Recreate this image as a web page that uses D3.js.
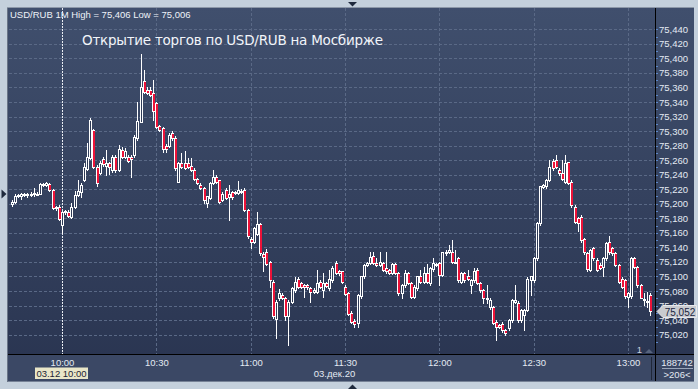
<!DOCTYPE html>
<html>
<head>
<meta charset="utf-8">
<script src="https://cdn.jsdelivr.net/npm/d3@7"></script>
<style>
  body { margin: 0; background: #c4d0dc; }
  svg { display: block; }
  text { font-family: 'Liberation Sans', Arial, sans-serif; }
</style>
</head>
<body>
<script>
// USD/RUB, 1-minute candles, 03.12.2020
var startTime = '09:44';
var opens = [
  75.200, 75.202, 75.211, 75.211, 75.212, 75.213, 75.212, 75.213, 75.213, 75.214,
  75.227, 75.226, 75.227, 75.219, 75.196, 75.196, 75.171, 75.188, 75.189, 75.182,
  75.196, 75.212, 75.216, 75.233, 75.248, 75.263, 75.301, 75.250, 75.243, 75.261,
  75.252, 75.256, 75.246, 75.265, 75.246, 75.274, 75.265, 75.265, 75.264, 75.267,
  75.290, 75.313, 75.369, 75.357, 75.357, 75.352, 75.338, 75.307, 75.304, 75.280,
  75.280, 75.298, 75.291, 75.230, 75.256, 75.256, 75.256, 75.252, 75.247, 75.234,
  75.226, 75.221, 75.201, 75.208, 75.228, 75.237, 75.232, 75.205, 75.219, 75.209,
  75.216, 75.215, 75.215, 75.218, 75.219, 75.191, 75.151, 75.148, 75.159, 75.172,
  75.131, 75.134, 75.120, 75.093, 75.041, 75.070, 75.075, 75.070, 75.045, 75.065,
  75.081, 75.097, 75.091, 75.088, 75.088, 75.084, 75.079, 75.079, 75.093, 75.081,
  75.091, 75.084, 75.095, 75.118, 75.107, 75.107, 75.086, 75.077, 75.050, 75.039,
  75.036, 75.073, 75.100, 75.116, 75.118, 75.128, 75.118, 75.116, 75.118, 75.111,
  75.109, 75.105, 75.117, 75.105, 75.077, 75.088, 75.105, 75.091, 75.072, 75.084,
  75.100, 75.093, 75.105, 75.091, 75.110, 75.117, 75.118, 75.102, 75.132, 75.134,
  75.134, 75.120, 75.125, 75.093, 75.105, 75.100, 75.088, 75.095, 75.109, 75.091,
  75.081, 75.070, 75.058, 75.058, 75.038, 75.033, 75.035, 75.026, 75.029, 75.040,
  75.065, 75.064, 75.040, 75.047, 75.054, 75.095, 75.095, 75.125, 75.173, 75.223,
  75.224, 75.233, 75.259, 75.260, 75.247, 75.243, 75.230, 75.257, 75.230, 75.196,
  75.180, 75.182, 75.151, 75.132, 75.109, 75.139, 75.123, 75.116, 75.113, 75.125,
  75.148, 75.139, 75.132, 75.116, 75.097, 75.095, 75.072, 75.073, 75.125, 75.113,
  75.088, 75.069, 75.066, 75.075
];
var highs = [
  75.205, 75.213, 75.214, 75.215, 75.215, 75.215, 75.216, 75.222, 75.216, 75.228,
  75.229, 75.230, 75.229, 75.220, 75.197, 75.198, 75.190, 75.192, 75.191, 75.201,
  75.217, 75.233, 75.229, 75.256, 75.283, 75.318, 75.303, 75.253, 75.259, 75.265,
  75.274, 75.258, 75.267, 75.267, 75.281, 75.278, 75.277, 75.267, 75.267, 75.295,
  75.340, 75.406, 75.384, 75.361, 75.361, 75.370, 75.340, 75.308, 75.306, 75.282,
  75.297, 75.300, 75.293, 75.258, 75.270, 75.272, 75.263, 75.263, 75.249, 75.236,
  75.228, 75.223, 75.211, 75.230, 75.246, 75.239, 75.233, 75.216, 75.221, 75.226,
  75.218, 75.218, 75.231, 75.220, 75.221, 75.193, 75.154, 75.168, 75.189, 75.174,
  75.133, 75.138, 75.121, 75.095, 75.068, 75.083, 75.077, 75.072, 75.068, 75.086,
  75.099, 75.099, 75.092, 75.090, 75.090, 75.086, 75.084, 75.109, 75.095, 75.105,
  75.092, 75.109, 75.114, 75.121, 75.109, 75.108, 75.088, 75.079, 75.052, 75.041,
  75.076, 75.101, 75.117, 75.120, 75.134, 75.134, 75.125, 75.134, 75.120, 75.134,
  75.110, 75.119, 75.119, 75.106, 75.090, 75.109, 75.106, 75.093, 75.088, 75.101,
  75.109, 75.113, 75.117, 75.113, 75.125, 75.119, 75.120, 75.134, 75.136, 75.143,
  75.150, 75.136, 75.127, 75.106, 75.106, 75.109, 75.097, 75.112, 75.111, 75.092,
  75.083, 75.088, 75.070, 75.060, 75.040, 75.035, 75.037, 75.028, 75.042, 75.069,
  75.088, 75.066, 75.055, 75.055, 75.099, 75.101, 75.127, 75.175, 75.225, 75.227,
  75.234, 75.260, 75.261, 75.267, 75.249, 75.260, 75.267, 75.258, 75.232, 75.198,
  75.182, 75.184, 75.153, 75.134, 75.138, 75.141, 75.125, 75.118, 75.127, 75.147,
  75.155, 75.141, 75.134, 75.117, 75.099, 75.097, 75.079, 75.127, 75.127, 75.115,
  75.090, 75.077, 75.079, 75.077
];
var lows = [
  75.197, 75.201, 75.209, 75.206, 75.211, 75.209, 75.211, 75.211, 75.212, 75.213,
  75.225, 75.225, 75.218, 75.193, 75.192, 75.178, 75.160, 75.186, 75.182, 75.181,
  75.194, 75.211, 75.209, 75.231, 75.246, 75.262, 75.249, 75.225, 75.241, 75.252,
  75.240, 75.241, 75.244, 75.244, 75.245, 75.263, 75.263, 75.258, 75.237, 75.264,
  75.288, 75.313, 75.352, 75.351, 75.348, 75.315, 75.304, 75.300, 75.271, 75.271,
  75.278, 75.288, 75.246, 75.230, 75.249, 75.248, 75.249, 75.245, 75.232, 75.227,
  75.220, 75.201, 75.196, 75.206, 75.227, 75.229, 75.201, 75.204, 75.206, 75.178,
  75.207, 75.213, 75.213, 75.215, 75.190, 75.153, 75.139, 75.146, 75.157, 75.130,
  75.107, 75.116, 75.086, 75.043, 75.016, 75.068, 75.069, 75.040, 75.006, 75.064,
  75.079, 75.084, 75.084, 75.072, 75.083, 75.065, 75.077, 75.077, 75.084, 75.072,
  75.086, 75.081, 75.093, 75.103, 75.102, 75.091, 75.074, 75.047, 75.036, 75.031,
  75.031, 75.070, 75.098, 75.114, 75.117, 75.117, 75.114, 75.115, 75.107, 75.105,
  75.103, 75.103, 75.103, 75.075, 75.070, 75.086, 75.089, 75.070, 75.070, 75.082,
  75.091, 75.091, 75.091, 75.088, 75.108, 75.114, 75.088, 75.100, 75.130, 75.132,
  75.119, 75.118, 75.093, 75.091, 75.093, 75.095, 75.077, 75.093, 75.089, 75.079,
  75.064, 75.064, 75.055, 75.035, 75.013, 75.029, 75.024, 75.020, 75.027, 75.038,
  75.064, 75.038, 75.038, 75.026, 75.052, 75.075, 75.093, 75.123, 75.171, 75.221,
  75.222, 75.231, 75.247, 75.249, 75.240, 75.232, 75.229, 75.227, 75.196, 75.174,
  75.163, 75.148, 75.131, 75.108, 75.108, 75.123, 75.107, 75.110, 75.101, 75.123,
  75.131, 75.130, 75.114, 75.091, 75.084, 75.071, 75.058, 75.071, 75.112, 75.086,
  75.070, 75.061, 75.058, 75.047
];
var closes = [
  75.203, 75.211, 75.212, 75.213, 75.213, 75.212, 75.213, 75.215, 75.214, 75.227,
  75.226, 75.228, 75.219, 75.194, 75.194, 75.179, 75.189, 75.190, 75.183, 75.196,
  75.212, 75.217, 75.226, 75.250, 75.264, 75.315, 75.250, 75.229, 75.256, 75.255,
  75.256, 75.251, 75.265, 75.246, 75.276, 75.265, 75.272, 75.259, 75.262, 75.292,
  75.314, 75.361, 75.354, 75.353, 75.350, 75.327, 75.306, 75.301, 75.276, 75.276,
  75.295, 75.290, 75.249, 75.256, 75.251, 75.249, 75.251, 75.246, 75.234, 75.228,
  75.221, 75.205, 75.210, 75.228, 75.237, 75.230, 75.203, 75.214, 75.208, 75.214,
  75.209, 75.216, 75.219, 75.217, 75.191, 75.155, 75.148, 75.166, 75.172, 75.132,
  75.127, 75.117, 75.095, 75.045, 75.065, 75.077, 75.071, 75.045, 75.065, 75.084,
  75.093, 75.086, 75.086, 75.086, 75.086, 75.079, 75.082, 75.091, 75.086, 75.091,
  75.087, 75.097, 75.112, 75.105, 75.105, 75.093, 75.076, 75.049, 75.038, 75.035,
  75.075, 75.100, 75.116, 75.119, 75.127, 75.118, 75.116, 75.120, 75.109, 75.107,
  75.105, 75.117, 75.105, 75.077, 75.088, 75.105, 75.091, 75.072, 75.086, 75.100,
  75.093, 75.105, 75.093, 75.111, 75.119, 75.116, 75.102, 75.133, 75.134, 75.136,
  75.120, 75.119, 75.095, 75.105, 75.095, 75.096, 75.095, 75.108, 75.091, 75.081,
  75.071, 75.069, 75.068, 75.036, 75.030, 75.031, 75.026, 75.022, 75.040, 75.068,
  75.068, 75.040, 75.054, 75.054, 75.097, 75.100, 75.125, 75.173, 75.224, 75.226,
  75.233, 75.251, 75.249, 75.251, 75.242, 75.234, 75.256, 75.228, 75.198, 75.175,
  75.173, 75.150, 75.133, 75.110, 75.136, 75.125, 75.109, 75.111, 75.125, 75.146,
  75.133, 75.132, 75.116, 75.093, 75.086, 75.073, 75.077, 75.125, 75.113, 75.088,
  75.071, 75.067, 75.065, 75.052
];
var priceTicks = [75.02, 75.04, 75.06, 75.08, 75.10, 75.12, 75.14, 75.16, 75.18, 75.20, 75.22,
  75.24, 75.26, 75.28, 75.30, 75.32, 75.34, 75.36, 75.38, 75.40, 75.42, 75.44];
var timeTicks = ['10:00', '10:30', '11:00', '11:30', '12:00', '12:30', '13:00'];
var sessionStart = '10:00';
var lastPrice = 75.052;

var w = 698, h = 389;
var plotLeft = 9, plotRight = 655, plotTop = 8, plotBottom = 354;

var parse = d3.timeParse('%H:%M');
var t0 = parse(startTime);
var data = opens.map(function (o, i) {
  return { t: d3.timeMinute.offset(t0, i), o: o, h: highs[i], l: lows[i], c: closes[i] };
});

var x = d3.scaleTime()
  .domain([parse(timeTicks[0]), parse(timeTicks[timeTicks.length - 1])])
  .range([62, 628]);
var y = d3.scaleLinear()
  .domain([75.02, 75.44])
  .range([334.6, 29.3]);

var comma = function (d) { return d3.format('.3f')(d).replace('.', ','); };

var svg = d3.select('body').append('svg')
  .attr('width', w)
  .attr('height', h);

var defs = svg.append('defs');
var grad = defs.append('linearGradient')
  .attr('id', 'bg').attr('x1', 0).attr('y1', 0).attr('x2', 0).attr('y2', 1);
grad.append('stop').attr('offset', '0%').attr('stop-color', '#404f6d');
grad.append('stop').attr('offset', '100%').attr('stop-color', '#293450');
defs.append('clipPath').attr('id', 'plotclip')
  .append('rect')
  .attr('x', plotLeft).attr('y', plotTop)
  .attr('width', plotRight - plotLeft).attr('height', plotBottom - plotTop);

// frame
svg.append('rect').attr('width', w).attr('height', h).attr('fill', '#c4d0dc');
svg.append('rect')
  .attr('x', 8).attr('y', 7.5).attr('width', 686).attr('height', 374)
  .attr('fill', 'url(#bg)');
svg.append('rect')
  .attr('x', 8).attr('y', plotBottom).attr('width', 686).attr('height', 381 - plotBottom)
  .attr('fill', '#3b4865');
svg.append('line')
  .attr('x1', 7.5).attr('x2', 7.5).attr('y1', 7).attr('y2', 382)
  .attr('stroke', '#6a7587');
svg.append('line')
  .attr('x1', 7).attr('x2', 694).attr('y1', 7.5).attr('y2', 7.5)
  .attr('stroke', '#8d98a8');

// small triangles on the frame
svg.append('path').attr('d', 'M348,2 L357,2 L352.5,6.5 Z').attr('fill', '#1f2a3d');
svg.append('path').attr('d', 'M348,389 L357,389 L352.5,384.5 Z').attr('fill', '#1f2a3d');
svg.append('path').attr('d', 'M1.5,189.5 L6.5,194 L1.5,198.5 Z').attr('fill', '#1f2a3d');

// grid
var grid = svg.append('g');
grid.selectAll('line.h')
  .data(priceTicks)
  .enter()
  .append('line')
  .attr('class', 'h')
  .attr('x1', plotLeft).attr('x2', plotRight)
  .attr('y1', function (d) { return Math.round(y(d)) + 0.5; })
  .attr('y2', function (d) { return Math.round(y(d)) + 0.5; })
  .attr('stroke', '#5a6986')
  .attr('stroke-dasharray', '3,2');
grid.selectAll('line.v')
  .data(timeTicks.filter(function (d) { return d !== sessionStart; }))
  .enter()
  .append('line')
  .attr('class', 'v')
  .attr('x1', function (d) { return Math.round(x(parse(d))) + 0.5; })
  .attr('x2', function (d) { return Math.round(x(parse(d))) + 0.5; })
  .attr('y1', plotTop).attr('y2', plotBottom)
  .attr('stroke', '#5a6986')
  .attr('stroke-dasharray', '3,2');
svg.append('line')
  .attr('x1', Math.round(x(parse(sessionStart))) + 0.5)
  .attr('x2', Math.round(x(parse(sessionStart))) + 0.5)
  .attr('y1', plotTop).attr('y2', plotBottom)
  .attr('stroke', '#e8ecf2')
  .attr('stroke-dasharray', '2,1');

// candles: white hollow for up, white-edged red for down
var bodyTop = function (d) { return Math.round(y(Math.max(d.o, d.c))); };
var bodyH = function (d) { return Math.max(1, Math.round(y(Math.min(d.o, d.c))) - bodyTop(d)); };
var candles = svg.append('g').attr('clip-path', 'url(#plotclip)')
  .selectAll('g')
  .data(data)
  .enter()
  .append('g');
candles.append('line')
  .attr('x1', function (d) { return Math.round(x(d.t)) + 0.5; })
  .attr('x2', function (d) { return Math.round(x(d.t)) + 0.5; })
  .attr('y1', function (d) { return Math.round(y(d.h)); })
  .attr('y2', function (d) { return Math.round(y(d.l)) + 1; })
  .attr('stroke', '#ffffff');
candles.filter(function (d) { return d.c >= d.o; })
  .append('rect')
  .attr('x', function (d) { return Math.round(x(d.t)) - 0.5; })
  .attr('y', function (d) { return bodyTop(d) + 0.5; })
  .attr('width', 2)
  .attr('height', bodyH)
  .attr('fill', '#2f3b57')
  .attr('stroke', '#ffffff');
var down = candles.filter(function (d) { return d.c < d.o; });
down.append('rect')
  .attr('x', function (d) { return Math.round(x(d.t)) - 1; })
  .attr('y', bodyTop)
  .attr('width', 3)
  .attr('height', function (d) { return bodyH(d) + 1; })
  .attr('fill', '#ffffff');
down.filter(function (d) { return bodyH(d) > 1; })
  .append('rect')
  .attr('x', function (d) { return Math.round(x(d.t)); })
  .attr('y', function (d) { return bodyTop(d) + 1; })
  .attr('width', 2)
  .attr('height', function (d) { return bodyH(d) - 1; })
  .attr('fill', '#ec1238');

// axis lines
svg.append('line')
  .attr('x1', plotRight + 0.5).attr('x2', plotRight + 0.5).attr('y1', plotTop).attr('y2', 381)
  .attr('stroke', '#000000');
svg.append('line')
  .attr('x1', 8).attr('x2', 694).attr('y1', plotBottom + 0.5).attr('y2', plotBottom + 0.5)
  .attr('stroke', '#000000');

// right price axis
var minorTicks = d3.range(75.01, 75.445, 0.01);
svg.append('g').selectAll('line')
  .data(minorTicks)
  .enter()
  .append('line')
  .attr('x1', plotRight + 1).attr('x2', plotRight + 3)
  .attr('y1', function (d) { return Math.round(y(d)) + 0.5; })
  .attr('y2', function (d) { return Math.round(y(d)) + 0.5; })
  .attr('stroke', '#5c87c8');

var yAxis = svg.append('g')
  .attr('transform', 'translate(' + (plotRight + 1) + ',0)')
  .call(d3.axisRight(y).tickValues(priceTicks).tickFormat(comma).tickSize(0).tickPadding(3));
yAxis.select('.domain').remove();
yAxis.selectAll('text')
  .attr('fill', '#e4eaf3')
  .style('font-size', '9.5px')
  .style('font-family', "'Liberation Sans', Arial, sans-serif");

// bottom time axis
var xAxis = svg.append('g')
  .attr('transform', 'translate(0,' + (plotBottom + 3) + ')')
  .call(d3.axisBottom(x)
    .tickValues(timeTicks.map(parse))
    .tickFormat(d3.timeFormat('%H:%M'))
    .tickSize(0).tickPadding(2));
xAxis.select('.domain').remove();
xAxis.selectAll('text')
  .attr('fill', '#e4eaf3')
  .style('font-size', '9.5px')
  .style('font-family', "'Liberation Sans', Arial, sans-serif");

// date labels
svg.append('rect')
  .attr('x', 35).attr('y', 367.5).attr('width', 53).attr('height', 11.5)
  .attr('fill', '#e9e6c8');
svg.append('text')
  .attr('x', 61.5).attr('y', 377)
  .attr('text-anchor', 'middle')
  .attr('fill', '#1c2433')
  .style('font-size', '9.5px')
  .text('03.12 10:00');
svg.append('text')
  .attr('x', 334.5).attr('y', 377)
  .attr('text-anchor', 'middle')
  .attr('fill', '#e4eaf3')
  .style('font-size', '9.5px')
  .text('03.дек.20');

// bottom-right status
svg.append('line')
  .attr('x1', 651.5).attr('x2', 651.5).attr('y1', 357).attr('y2', 380)
  .attr('stroke', '#1f2738');
svg.append('text')
  .attr('x', 677).attr('y', 365.5)
  .attr('text-anchor', 'middle')
  .attr('fill', '#e4eaf3')
  .style('font-size', '9.5px')
  .text('188742');
svg.append('line')
  .attr('x1', 662).attr('x2', 693).attr('y1', 368.5).attr('y2', 368.5)
  .attr('stroke', '#9aa6ba');
svg.append('text')
  .attr('x', 677).attr('y', 377.5)
  .attr('text-anchor', 'middle')
  .attr('fill', '#e4eaf3')
  .style('font-size', '9.5px')
  .text('>206<');

// "1" marker in corner
svg.append('text')
  .attr('x', 639.5).attr('y', 352.5)
  .attr('text-anchor', 'middle')
  .attr('fill', '#c8d0dc')
  .style('font-size', '9.5px')
  .text('1');
svg.append('path').attr('d', 'M645,353 L653,353 L649,349 Z').attr('fill', '#56637d');

// last price marker
var ly = Math.round(y(lastPrice)) + 0.5;
svg.append('path')
  .attr('d', 'M657,' + ly + ' L663,' + (ly - 6) + ' L696.5,' + (ly - 6) + ' L696.5,' + (ly + 6) + ' L663,' + (ly + 6) + ' Z')
  .attr('fill', '#c9cbd0')
  .attr('stroke', '#e6e8ec');
svg.append('text')
  .attr('x', 680).attr('y', ly + 4)
  .attr('text-anchor', 'middle')
  .attr('fill', '#1b2540')
  .style('font-size', '10px')
  .text(comma(lastPrice));

// titles
svg.append('text')
  .attr('x', 10).attr('y', 17.5)
  .attr('fill', '#eef2f8')
  .style('font-size', '9.5px')
  .text('USD/RUB 1M High = ' + comma(d3.max(highs)) + ' Low = ' + comma(d3.min(lows)));
svg.append('text')
  .attr('x', 82).attr('y', 45)
  .attr('fill', '#f2f5fa')
  .attr('textLength', 301)
  .attr('lengthAdjust', 'spacing')
  .style('font-size', '13.5px')
  .style('font-family', "'DejaVu Sans', Verdana, sans-serif")
  .text('Открытие торгов по USD/RUB на Мосбирже');
</script>
</body>
</html>
